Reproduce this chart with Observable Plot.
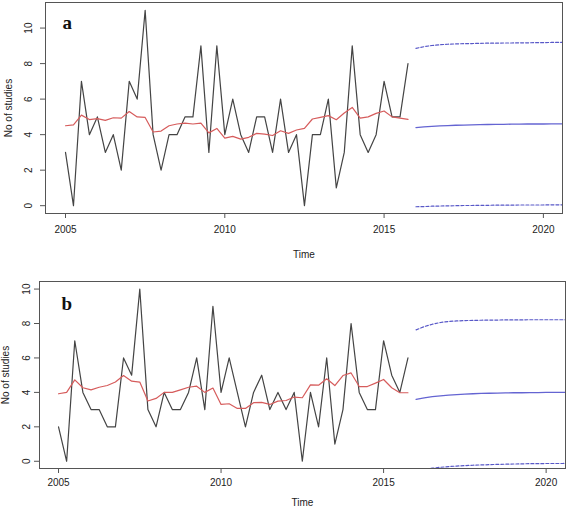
<!DOCTYPE html>
<html><head><meta charset="utf-8">
<script src="https://cdn.jsdelivr.net/npm/d3@7"></script>
<script src="https://cdn.jsdelivr.net/npm/@observablehq/plot@0.6"></script>
<style>body{margin:0;background:#fff} #chart svg{display:block}</style>
</head><body><div id="chart"></div>
<script>
// Quarterly series, start 2005 Q1; forecasts start 2016 Q1
const startYear = 2005;
const freq = 4;
const forecastStartYear = 2016;
const xTicks = [2005, 2010, 2015, 2020];
const yTicks = [0, 2, 4, 6, 8, 10];

// Panel a
const observedA = [3,0,7,4,5,3,4,2,7,6,11,4,2,4,4,5,5,9,3,9,4,6,4,3,5,5,3,6,3,4,0,4,4,6,1,3,9,4,3,4,7,5,5,8];
const fittedA = [4.50,4.55,5.10,4.85,4.90,4.80,4.95,4.93,5.30,5.00,4.97,4.15,4.20,4.50,4.60,4.65,4.60,4.65,4.10,4.35,3.80,3.90,3.75,3.85,4.07,4.03,3.95,4.22,4.07,4.26,4.35,4.88,4.97,5.07,4.84,5.22,5.53,4.93,5.00,5.20,5.33,5.00,4.93,4.86];
const meanA  = [4.40,4.44,4.47,4.49,4.51,4.53,4.54,4.55,4.56,4.57,4.58,4.58,4.59,4.59,4.60,4.60,4.60,4.61,4.61,4.61];
const upperA = [8.86,8.95,9.02,9.06,9.09,9.11,9.12,9.13,9.14,9.15,9.15,9.16,9.16,9.17,9.17,9.18,9.18,9.19,9.19,9.19];
const lowerA = [-0.06,-0.05,-0.03,-0.02,-0.01,0.00,0.01,0.01,0.02,0.02,0.03,0.03,0.03,0.04,0.04,0.04,0.04,0.05,0.05,0.05];

// Panel b
const observedB = [2,0,7,4,3,3,2,2,6,5,10,3,2,4,3,3,4,6,3,9,4,6,4,2,4,5,3,4,3,4,0,4,2,6,1,3,8,4,3,3,7,5,4,6];
const fittedB = [3.92,4.00,4.73,4.27,4.15,4.30,4.40,4.60,4.98,4.65,4.60,3.50,3.65,4.00,4.00,4.15,4.30,4.36,4.00,4.25,3.30,3.34,3.07,3.07,3.40,3.42,3.30,3.49,3.53,3.73,3.69,4.44,4.42,4.79,4.40,4.98,5.13,4.34,4.34,4.54,4.75,4.27,3.98,3.98];
const meanB  = [3.59,3.68,3.75,3.80,3.84,3.87,3.90,3.92,3.94,3.95,3.96,3.97,3.98,3.98,3.99,3.99,4.00,4.00,4.00,4.00];
const upperB = [7.63,7.82,7.96,8.06,8.12,8.15,8.17,8.18,8.19,8.20,8.20,8.21,8.21,8.21,8.22,8.22,8.22,8.22,8.22,8.22];
const lowerB = [-0.50,-0.45,-0.40,-0.35,-0.31,-0.28,-0.25,-0.23,-0.21,-0.20,-0.18,-0.17,-0.16,-0.15,-0.14,-0.14,-0.13,-0.13,-0.13,-0.12];

const COL_OBS = "#444", COL_FIT = "#d65c5c", COL_FC = "#6464d2", COL_PI = "#5858c8", COL_AXIS = "#555", COL_TEXT = "#222";
const FONT = "'Liberation Sans', Arial, sans-serif";

function series(values, t0) { return values.map((v, i) => ({t: t0 + i / freq, v})); }

function panel(cfg) {
  const obs = series(cfg.observed, startYear);
  const fit = series(cfg.fitted, startYear);
  const mean = series(cfg.mean, forecastStartYear);
  const up = series(cfg.upper, forecastStartYear);
  const lo = series(cfg.lower, forecastStartYear);
  return Plot.plot({
    width: 567, height: cfg.height,
    marginLeft: cfg.ml, marginRight: cfg.mr, marginTop: cfg.mt, marginBottom: cfg.mb,
    style: {fontFamily: FONT, fontSize: "10px", color: COL_TEXT, background: "#fff"},
    x: {domain: cfg.xDomain},
    y: {domain: cfg.yDomain},
    marks: [
      Plot.axisX({ticks: xTicks, tickFormat: d => String(d), tickSize: 5, tickPadding: cfg.xPad, stroke: COL_AXIS, label: null}),
      Plot.axisY({ticks: yTicks, tickSize: 5, tickFormat: () => "", stroke: COL_AXIS, label: null}),
      // rotated y tick labels (R style, parallel to axis)
      Plot.text(yTicks, {y: d => d, text: d => String(d), frameAnchor: "left", dx: -cfg.yLabDx, rotate: -90,
                         textAnchor: "middle", lineAnchor: "middle", fill: COL_TEXT, fontSize: 10}),
      Plot.text(["No of studies"], {frameAnchor: "left", dx: -cfg.yTitleDx, rotate: -90,
                         textAnchor: "middle", lineAnchor: "middle", fill: COL_TEXT, fontSize: 10}),
      Plot.text(["Time"], {frameAnchor: "bottom", dy: cfg.xTitleDy, textAnchor: "middle", lineAnchor: "middle",
                         fill: COL_TEXT, fontSize: 10}),
      Plot.line(obs, {x: "t", y: "v", stroke: COL_OBS, strokeWidth: 1.2, clip: true}),
      Plot.line(fit, {x: "t", y: "v", stroke: COL_FIT, strokeWidth: 1.2, clip: true}),
      Plot.line(mean, {x: "t", y: "v", stroke: COL_FC, strokeWidth: 1.3, clip: true}),
      Plot.line(up, {x: "t", y: "v", stroke: COL_PI, strokeWidth: 1.2, strokeDasharray: "3,2", clip: true}),
      Plot.line(lo, {x: "t", y: "v", stroke: COL_PI, strokeWidth: 1.2, strokeDasharray: "3,2", clip: true}),
      Plot.frame({stroke: COL_AXIS, strokeWidth: 1}),
      Plot.text([cfg.letter], {frameAnchor: "top-left", dx: cfg.ldx, dy: cfg.ldy, textAnchor: "start", lineAnchor: "bottom",
                 fontFamily: "'Liberation Serif', 'Times New Roman', serif", fontWeight: "bold", fontSize: 19, fill: "#111"})
    ]
  });
}

const chart = document.getElementById("chart");
chart.append(panel({
  observed: observedA, fitted: fittedA, mean: meanA, upper: upperA, lower: lowerA,
  height: 262, ml: 45, mr: 5, mt: 2, mb: 49,
  xDomain: [2004.372, 2020.60], yDomain: [-0.44, 11.44],
  xPad: 7, yLabDx: 17, yTitleDx: 37, xTitleDy: 41,
  letter: "a", ldx: 17, ldy: 26
}));
chart.append(panel({
  observed: observedB, fitted: fittedB, mean: meanB, upper: upperB, lower: lowerB,
  height: 246, ml: 39, mr: 2, mt: 19, mb: 40,
  xDomain: [2004.415, 2020.596], yDomain: [-0.42, 10.44],
  xPad: 5, yLabDx: 13, yTitleDx: 34, xTitleDy: 34,
  letter: "b", ldx: 22, ldy: 28
}));
</script>
</body></html>
